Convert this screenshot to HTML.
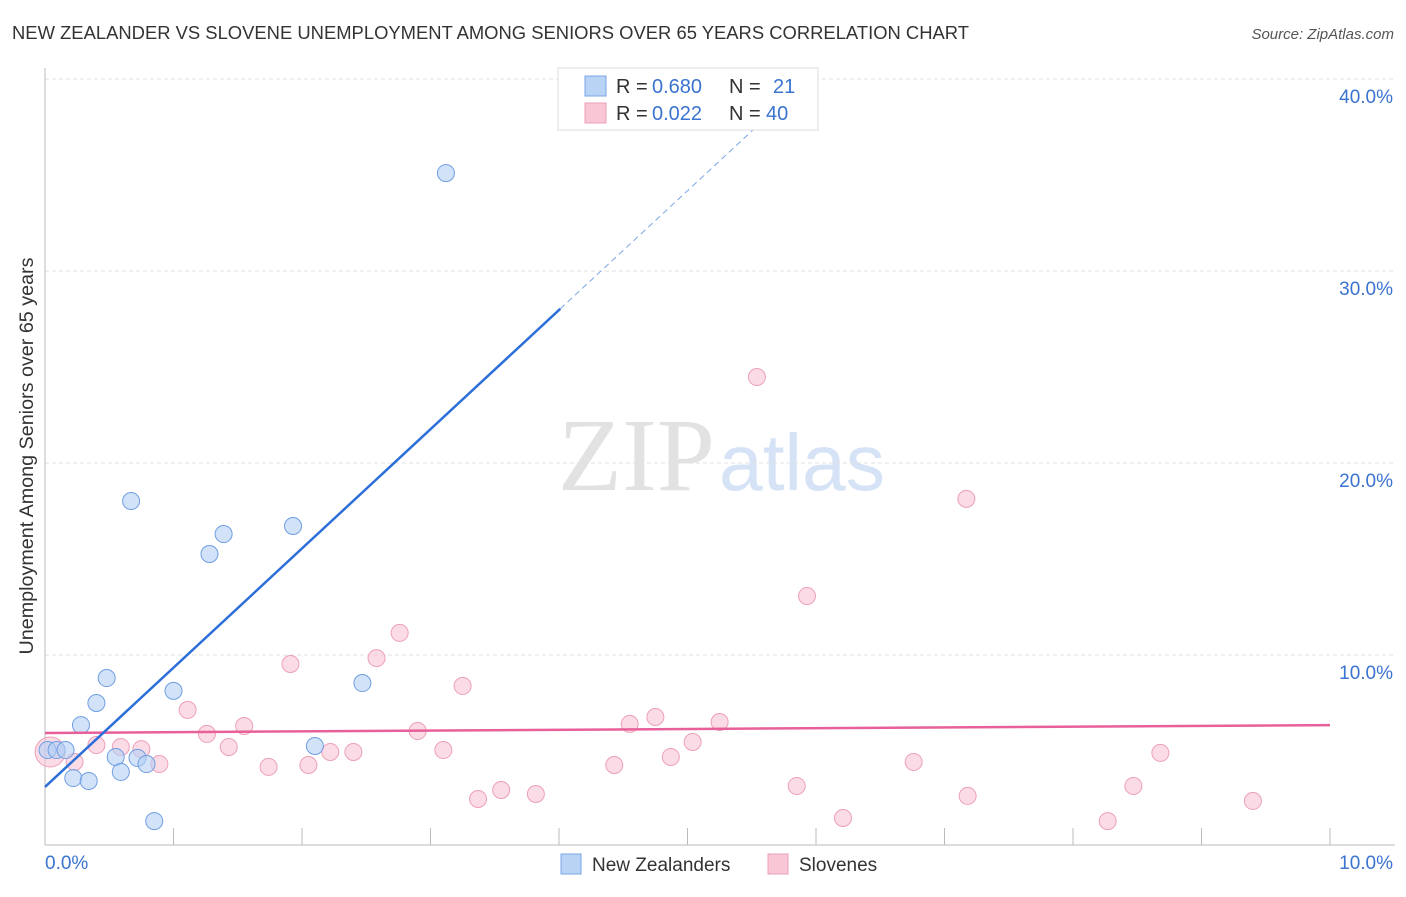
<!DOCTYPE html>
<html><head><meta charset="utf-8"><style>
body{margin:0;background:#fff;font-family:"Liberation Sans",sans-serif;}
</style></head><body>
<svg id="c" width="1406" height="892" xmlns="http://www.w3.org/2000/svg">
<text x="12" y="39" font-size="18" fill="#333" textLength="957" lengthAdjust="spacingAndGlyphs">NEW ZEALANDER VS SLOVENE UNEMPLOYMENT AMONG SENIORS OVER 65 YEARS CORRELATION CHART</text>
<text x="1394" y="39" font-size="15" fill="#555" font-style="italic" text-anchor="end">Source: ZipAtlas.com</text>
<text x="33" y="456" font-size="19" fill="#333" text-anchor="middle" textLength="397" lengthAdjust="spacingAndGlyphs" transform="rotate(-90 33 456)">Unemployment Among Seniors over 65 years</text>
<text x="558" y="490" font-size="104" font-family="Liberation Serif,serif" fill="#e2e2e2" textLength="157" lengthAdjust="spacingAndGlyphs">ZIP</text>
<text x="719" y="490" font-size="80" fill="#d6e3f6" textLength="166" lengthAdjust="spacingAndGlyphs">atlas</text>
<g id="grid"></g><g id="axes"></g><g id="marks"></g>
<g>
<rect x="558" y="68" width="260" height="62" fill="#fff" stroke="#ddd"/>
<rect x="585" y="76" width="21" height="20" fill="#b9d3f5" stroke="#7aa6e6"/>
<rect x="585" y="103" width="21" height="20" fill="#f8c6d5" stroke="#eda0b8"/>
<g font-size="20" fill="#333">
<text x="616" y="93">R =</text><text x="652" y="93" fill="#3a73d0">0.680</text><text x="729" y="93">N =</text><text x="773" y="93" fill="#3a73d0">21</text>
<text x="616" y="120">R =</text><text x="652" y="120" fill="#3a73d0">0.022</text><text x="729" y="120">N =</text><text x="766" y="120" fill="#3a73d0">40</text>
</g>
</g>
<g>
<rect x="561" y="854" width="20" height="20" fill="#b9d3f5" stroke="#7aa6e6"/>
<text x="592" y="871" font-size="19" fill="#333">New Zealanders</text>
<rect x="768" y="854" width="20" height="20" fill="#f8c6d5" stroke="#eda0b8"/>
<text x="799" y="871" font-size="19" fill="#333">Slovenes</text>
</g>
</svg>
<script>
const yTicks=[10,20,30,40];
const yTickLabels=["10.0%","20.0%","30.0%","40.0%"];
const xEndLabels=["0.0%","10.0%"];
const nzX=[0.02,0.09,0.16,0.28,0.40,0.48,0.22,0.34,0.55,0.59,0.67,0.72,0.79,0.85,1.00,1.28,1.39,1.93,2.10,2.47,3.12];
const nzY=[5.05,5.05,5.05,6.35,7.5,8.8,3.59,3.44,4.69,3.91,18.02,4.64,4.32,1.35,8.13,15.26,16.30,16.72,5.26,8.54,35.10];
const slX=[0.04,0.23,0.40,0.59,0.75,0.89,1.11,1.26,1.43,1.55,1.74,1.91,2.05,2.22,2.40,2.58,2.76,2.90,3.10,3.25,3.37,3.55,3.82,4.43,4.55,4.75,4.87,5.04,5.25,5.54,5.85,5.93,6.21,6.76,7.17,7.18,8.27,8.47,8.68,9.40];
const slY=[4.95,4.43,5.31,5.21,5.10,4.32,7.14,5.89,5.21,6.30,4.17,9.53,4.27,4.95,4.95,9.84,11.15,6.04,5.05,8.39,2.50,2.97,2.76,4.27,6.41,6.77,4.69,5.47,6.51,24.48,3.18,13.07,1.51,4.43,18.13,2.66,1.35,3.18,4.90,2.40];
const nzTrend=[3.13,6.21]; // intercept, slope
const slTrend=[5.94,0.041];
const xs=v=>45+v*128.5, ys=v=>847-v*19.2;
const NS="http://www.w3.org/2000/svg";
function mk(p,t,a){const e=document.createElementNS(NS,t);for(const k in a)e.setAttribute(k,a[k]);p.appendChild(e);return e;}
const grid=document.getElementById('grid'),axes=document.getElementById('axes'),marks=document.getElementById('marks');
yTicks.forEach((t,i)=>{
 const l=mk(grid,'line',{x1:45,x2:1395,y1:ys(t),y2:ys(t),stroke:'#e2e2e2','stroke-dasharray':'4,3'});
 
 
 const tx=mk(axes,'text',{x:1393,y:ys(t)+24,'font-size':19,fill:'#3a73d0','text-anchor':'end'});
 tx.textContent=yTickLabels[i];
 
 
});
mk(axes,'line',{x1:45,x2:45,y1:68,y2:845,stroke:'#bbb'});
mk(axes,'line',{x1:45,x2:1395,y1:845,y2:845,stroke:'#bbb'});
for(let i=1;i<=10;i++){
 const t=mk(axes,'line',{x1:xs(i),x2:xs(i),y1:828,y2:845,stroke:'#bbb'});
 
 
}
const xl0=mk(axes,'text',{x:45,y:869,'font-size':19,fill:'#3a73d0'});xl0.textContent=xEndLabels[0];


const xl1=mk(axes,'text',{x:1393,y:869,'font-size':19,fill:'#3a73d0','text-anchor':'end'});xl1.textContent=xEndLabels[1];


slX.forEach((x,i)=>{
 const c=mk(marks,'circle',{cx:xs(x),cy:ys(slY[i]),r:i===0?15:8.5,fill:'rgba(248,190,208,0.55)',stroke:'#eda0b8','stroke-width':1});
 
 
});
nzX.forEach((x,i)=>{
 const c=mk(marks,'circle',{cx:xs(x),cy:ys(nzY[i]),r:8.5,fill:'rgba(180,208,245,0.6)',stroke:'#6f9ee3','stroke-width':1});
 
 
});
const sl=mk(marks,'line',{x1:xs(0),x2:xs(10),y1:ys(slTrend[0]),y2:ys(slTrend[0]+slTrend[1]*10),stroke:'#e8609a','stroke-width':2.5});


const nl=mk(marks,'line',{x1:xs(0),x2:xs(4.01),y1:ys(nzTrend[0]),y2:ys(nzTrend[0]+nzTrend[1]*4.01),stroke:'#2c6fd8','stroke-width':2.5});


const nd=mk(marks,'line',{x1:xs(4.01),x2:xs(5.57),y1:ys(nzTrend[0]+nzTrend[1]*4.01),y2:ys(nzTrend[0]+nzTrend[1]*5.57),stroke:'#7aa6e6','stroke-width':1,'stroke-dasharray':'6,4'});


</script>
</body></html>
